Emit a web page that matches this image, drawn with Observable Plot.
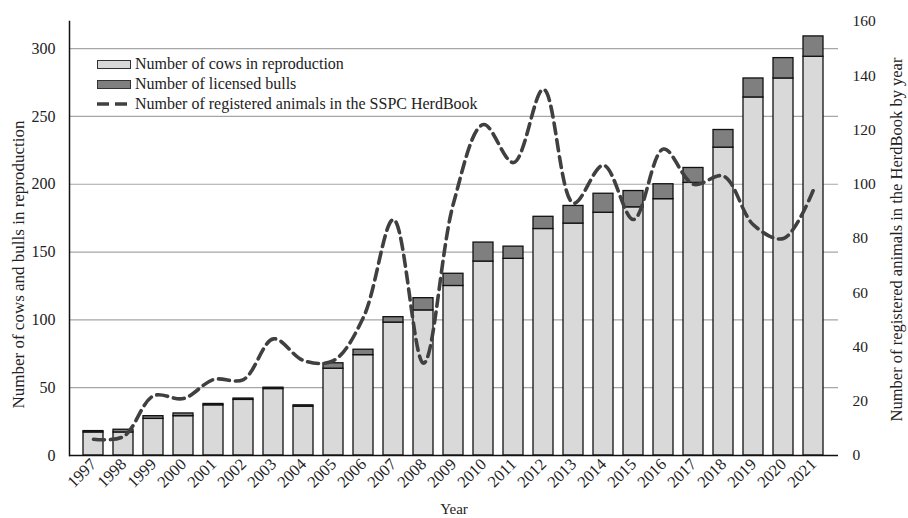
<!DOCTYPE html>
<html>
<head>
<meta charset="utf-8">
<script src="https://cdn.jsdelivr.net/npm/d3@7"></script>
<script src="https://cdn.jsdelivr.net/npm/@observablehq/plot@0.6"></script>
<style>
  html, body { margin: 0; padding: 0; background: #fff; }
  #wrap { position: relative; width: 908px; height: 518px; font-family: "Liberation Serif", "Times New Roman", serif; }
  #legend { position: absolute; left: 97px; top: 54px; font-size: 16px; color: #222; line-height: 20px; }
  #legend .row { display: flex; align-items: center; height: 20px; white-space: nowrap; }
  #legend .sw { width: 32px; height: 7px; border: 1px solid #333; margin-right: 4px; box-sizing: content-box; }
  #legend svg { margin-right: 4px; }
</style>
</head>
<body>
<div id="wrap">
  <div id="chart"></div>
  <div id="legend"></div>
</div>
<script>
const years = ["1997","1998","1999","2000","2001","2002","2003","2004","2005","2006","2007","2008","2009","2010","2011","2012","2013","2014","2015","2016","2017","2018","2019","2020","2021"];
const cows = [17,17,27,29,37,41,49,36,64,74,98,107,125,143,145,167,171,179,183,189,201,227,264,278,294];
const bulls = [1,2,2,2,1,1,1,1,4,4,4,9,9,14,9,9,13,14,12,11,11,13,14,15,15];
const registered = [6,7,22,21,28,28,43,35,35,51,87,34,93,122,108,135,93,107,87,113,100,103,85,80,98];
const leftTicks = [0,50,100,150,200,250,300];
const rightTicks = [0,20,40,60,80,100,120,140,160];
const seriesNames = ["Number of cows in reproduction","Number of licensed bulls","Number of registered animals in the SSPC HerdBook"];
const leftTitle = "Number of cows and bulls in reproduction";
const rightTitle = "Number of registered animals in the HerdBook by year";
const xTitle = "Year";

const rows = years.map((year, i) => ({year, cows: cows[i], bulls: bulls[i], reg: registered[i]}));
const ratio = 2; // left domain 0-320 vs right 0-160

const chart = Plot.plot({
  width: 908,
  height: 518,
  marginLeft: 69,
  marginRight: 70,
  marginTop: 21,
  marginBottom: 63,
  style: {fontFamily: "Liberation Serif, Times New Roman, serif", fontSize: "15px", color: "#222", background: "#fff"},
  x: {type: "band", domain: years, paddingInner: 0.32, paddingOuter: 0.16, label: null},
  y: {domain: [0, 320], label: null},
  marks: [
    Plot.ruleY(leftTicks.filter(d => d > 0), {stroke: "#a6a6a6", strokeWidth: 1.2}),
    Plot.barY(rows, {x: "year", y1: 0, y2: "cows", fill: "#d9d9d9", stroke: "#111", strokeWidth: 1.3}),
    Plot.barY(rows, {x: "year", y1: "cows", y2: d => d.cows + d.bulls, fill: "#7f7f7f", stroke: "#111", strokeWidth: 1.3}),
    Plot.line(rows, {x: "year", y: d => d.reg * ratio, curve: "catmull-rom", stroke: "#404040", strokeWidth: 3.6, strokeDasharray: "11 6"}),
    Plot.ruleY([0], {stroke: "#111", strokeWidth: 1.5}),
    Plot.frame({anchor: "left", stroke: "#111", strokeWidth: 1.5}),
    Plot.axisY({ticks: leftTicks, tickSize: 0, tickPadding: 14, label: null, fontSize: 16}),
    Plot.axisY({anchor: "right", ticks: rightTicks.map(d => d * ratio), tickFormat: d => d / ratio, tickSize: 0, tickPadding: 14, label: null, fontSize: 15.5}),
    Plot.axisX({tickRotate: -45, tickSize: 0, tickPadding: 6, label: null, fontSize: 16.5}),
    Plot.text([xTitle], {frameAnchor: "bottom", lineAnchor: "bottom", dy: 58, fontSize: 15}),
    Plot.text([leftTitle], {frameAnchor: "left", textAnchor: "middle", rotate: -90, dx: -51, dy: 26, fontSize: 17}),
    Plot.text([rightTitle], {frameAnchor: "right", textAnchor: "middle", rotate: -90, dx: 58, dy: 1, fontSize: 16.5})
  ]
});
document.getElementById("chart").appendChild(chart);

const legend = document.getElementById("legend");
const fills = ["#d9d9d9", "#7f7f7f"];
seriesNames.forEach((name, i) => {
  const row = document.createElement("div");
  row.className = "row";
  if (i < 2) {
    const sw = document.createElement("span");
    sw.className = "sw";
    sw.style.background = fills[i];
    row.appendChild(sw);
  } else {
    const ns = "http://www.w3.org/2000/svg";
    const s = document.createElementNS(ns, "svg");
    s.setAttribute("width", 34); s.setAttribute("height", 10);
    const l = document.createElementNS(ns, "line");
    l.setAttribute("x1", 0); l.setAttribute("x2", 34); l.setAttribute("y1", 5); l.setAttribute("y2", 5);
    l.setAttribute("stroke", "#404040"); l.setAttribute("stroke-width", 3.6); l.setAttribute("stroke-dasharray", "12 6");
    s.appendChild(l);
    row.appendChild(s);
  }
  const t = document.createElement("span");
  t.textContent = name;
  row.appendChild(t);
  legend.appendChild(row);
});
</script>
</body>
</html>
